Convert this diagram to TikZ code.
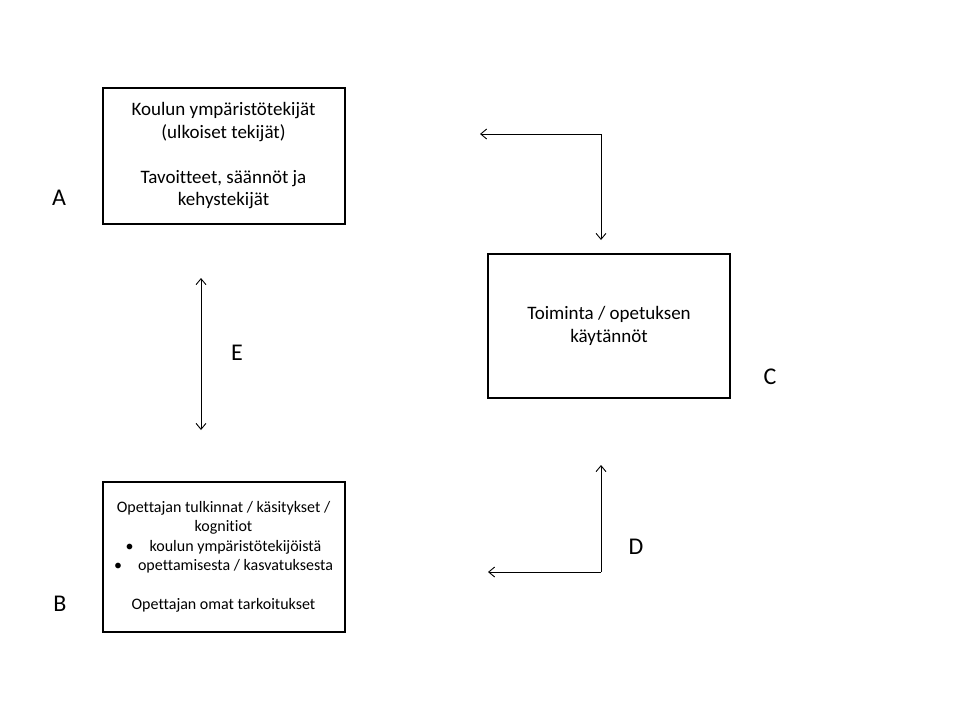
\documentclass[tikz,border=0pt]{standalone}
\usepackage{fontspec}
\setmainfont{Carlito}[Ligatures=CommonOff]
\usetikzlibrary{arrows.meta}

\begin{document}
\begin{tikzpicture}[x=1pt,y=-1pt,
  laatikko/.style={draw,line width=2pt,minimum width=242pt,inner sep=0pt,align=center},
  isoteksti/.style={font=\fontsize{19}{22.5}\selectfont},
  pieniteksti/.style={font=\fontsize{16}{19.5}\selectfont},
  kirjain/.style={font=\fontsize{24}{26}\selectfont},
  nuoli/.style={line width=0.9pt,-{Straight Barb[length=6pt,width=10pt]}}]
\useasboundingbox (0,0) rectangle (960,720);
% laatikot
\node[laatikko,isoteksti,minimum height=136pt] (A) at (223.5,156) {Koulun ympäristötekijät\\(ulkoiset tekijät)\\[22.5pt]Tavoitteet, säännöt ja\\kehystekijät};
\node[laatikko,pieniteksti,minimum height=150pt] (B) at (223.5,557) {Opettajan tulkinnat / käsitykset /\\kognitiot\\•\quad koulun ympäristötekijöistä\\•\quad opettamisesta / kasvatuksesta\\[19.5pt]Opettajan omat tarkoitukset};
\node[laatikko,isoteksti,minimum height=144pt] (C) at (609,326) {Toiminta / opetuksen\\käytännöt};
% kirjaimet
\node[kirjain] (labA) at (59,198) {A};
\node[kirjain] (labB) at (60,604) {B};
\node[kirjain] (labC) at (770,377) {C};
\node[kirjain] (labD) at (636,547) {D};
\node[kirjain] (labE) at (237,353) {E};
% nuolet
\coordinate (ylakulma) at (601,134);
\coordinate (ylavasen) at (480,134);
\coordinate (ylaalas) at (601,240);
\draw[nuoli] (ylakulma) -- (ylavasen);
\draw[nuoli] (ylakulma) -- (ylaalas);
\coordinate (alakulma) at (601,572);
\coordinate (alavasen) at (488,572);
\coordinate (alaylos) at (601,465);
\draw[nuoli] (alakulma) -- (alavasen);
\draw[nuoli] (alakulma) -- (alaylos);
\coordinate (eylos) at (201,278);
\coordinate (ealas) at (201,430);
\draw[nuoli,{Straight Barb[length=6pt,width=10pt]}-{Straight Barb[length=6pt,width=10pt]}] (eylos) -- (ealas);
\end{tikzpicture}
\end{document}
